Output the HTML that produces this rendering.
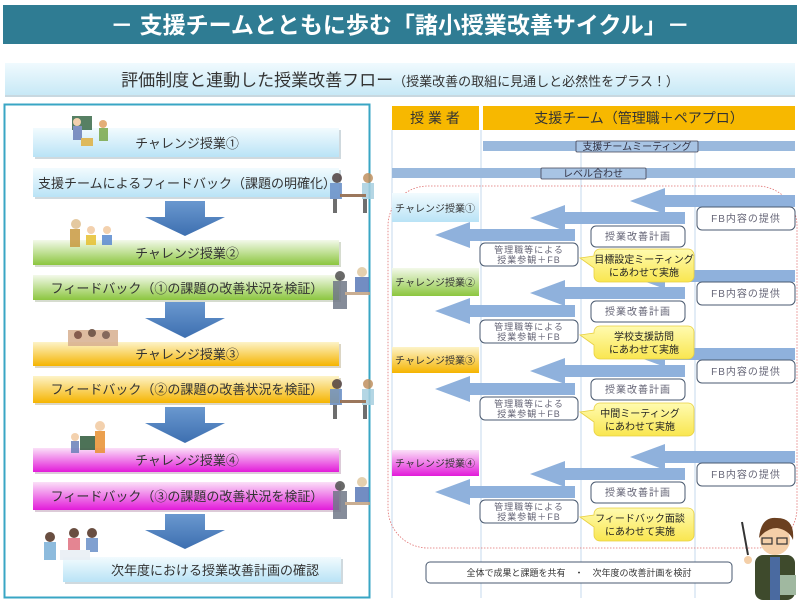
<!DOCTYPE html>
<html><head><meta charset="utf-8"><style>
html,body{margin:0;padding:0;background:#fff;}
svg{display:block;font-family:"Liberation Sans","Noto Sans CJK JP",sans-serif;}
</style></head><body>
<svg width="800" height="600" viewBox="0 0 800 600" xmlns="http://www.w3.org/2000/svg">
<defs>
<linearGradient id="gb" x1="0" y1="0" x2="0" y2="1"><stop offset="0" stop-color="#f2fbfe"/><stop offset="1" stop-color="#b9e3f6"/></linearGradient>
<linearGradient id="gg" x1="0" y1="0" x2="0" y2="1"><stop offset="0" stop-color="#f3f9ea"/><stop offset="1" stop-color="#8cc63f"/></linearGradient>
<linearGradient id="go" x1="0" y1="0" x2="0" y2="1"><stop offset="0" stop-color="#fdf3c8"/><stop offset="1" stop-color="#f5b400"/></linearGradient>
<linearGradient id="gm" x1="0" y1="0" x2="0" y2="1"><stop offset="0" stop-color="#fbe0f8"/><stop offset="1" stop-color="#e21bd9"/></linearGradient>
<linearGradient id="gs" x1="0" y1="0" x2="0" y2="1"><stop offset="0" stop-color="#f0fafe"/><stop offset="1" stop-color="#c6e8f6"/></linearGradient>
<linearGradient id="gd" x1="0" y1="0" x2="0" y2="1"><stop offset="0" stop-color="#6a98cf"/><stop offset="1" stop-color="#3d6fb0"/></linearGradient>
<linearGradient id="gy" x1="0" y1="0" x2="0" y2="1"><stop offset="0" stop-color="#fffbb0"/><stop offset="1" stop-color="#f9e650"/></linearGradient>
</defs>

<!-- title -->
<rect x="3" y="5" width="794" height="39" fill="#2f7c93"/>
<text x="400" y="33" text-anchor="middle" font-size="23" font-weight="bold" fill="#fff">－ 支援チームとともに歩む「諸小授業改善サイクル」－</text>

<!-- subtitle -->
<rect x="5" y="63" width="790" height="33" fill="url(#gs)"/>
<rect x="5" y="95" width="790" height="2" fill="#c8d8e0"/>
<text x="400" y="86" text-anchor="middle" font-size="17" fill="#333">評価制度と連動した授業改善フロー<tspan font-size="13">（授業改善の取組に見通しと必然性をプラス！）</tspan></text>

<!-- left panel -->
<rect x="4.5" y="104.5" width="365" height="493" fill="#fff" stroke="#39a6c4" stroke-width="2"/>

<g font-size="13" fill="#333" text-anchor="middle">
<rect x="35" y="130" width="306" height="29" fill="#cfd9de"/>
<rect x="33" y="128" width="306" height="29" fill="url(#gb)"/>
<text x="187" y="148">チャレンジ授業①</text>
<rect x="35" y="170" width="306" height="29" fill="#cfd9de"/>
<rect x="33" y="168" width="306" height="29" fill="url(#gb)"/>
<text x="187" y="188">支援チームによるフィードバック（課題の明確化）</text>

<rect x="35" y="242" width="306" height="25" fill="#d6dccf"/>
<rect x="33" y="240" width="306" height="25" fill="url(#gg)"/>
<text x="187" y="258">チャレンジ授業②</text>
<rect x="35" y="277" width="306" height="25" fill="#d6dccf"/>
<rect x="33" y="275" width="306" height="25" fill="url(#gg)"/>
<text x="187" y="293">フィードバック（①の課題の改善状況を検証）</text>

<rect x="35" y="344" width="306" height="24" fill="#dcd6c4"/>
<rect x="33" y="342" width="306" height="24" fill="url(#go)"/>
<text x="187" y="359">チャレンジ授業③</text>
<rect x="35" y="378" width="306" height="27" fill="#dcd6c4"/>
<rect x="33" y="376" width="306" height="27" fill="url(#go)"/>
<text x="187" y="394">フィードバック（②の課題の改善状況を検証）</text>

<rect x="35" y="450" width="306" height="24" fill="#dccbd8"/>
<rect x="33" y="448" width="306" height="24" fill="url(#gm)"/>
<text x="187" y="465">チャレンジ授業④</text>
<rect x="35" y="484" width="306" height="28" fill="#dccbd8"/>
<rect x="33" y="482" width="306" height="28" fill="url(#gm)"/>
<text x="187" y="501">フィードバック（③の課題の改善状況を検証）</text>

<rect x="65" y="559" width="278" height="25" fill="#cfd9de"/>
<rect x="63" y="557" width="278" height="25" fill="url(#gb)"/>
<text x="215" y="575">次年度における授業改善計画の確認</text>
</g>

<!-- down arrows -->
<g fill="url(#gd)">
<polygon points="165,201 205,201 205,217 225,217 185,236 145,217 165,217"/>
<polygon points="165,302 205,302 205,318 225,318 185,338 145,318 165,318"/>
<polygon points="165,407 205,407 205,423 225,423 185,443 145,423 165,423"/>
<polygon points="165,514 205,514 205,530 225,530 185,549 145,530 165,530"/>
</g>

<!-- simple illustrations -->
<g opacity="0.85">
<rect x="72" y="116" width="20" height="14" fill="#3a6b4a"/><circle cx="77" cy="122" r="4" fill="#f2c9a0"/><rect x="73" y="126" width="9" height="14" fill="#6a7fb8"/><circle cx="103" cy="124" r="4" fill="#e0a060"/><rect x="99" y="128" width="9" height="13" fill="#7aa84a"/><rect x="81" y="138" width="12" height="8" fill="#e0b040"/>
<circle cx="76" cy="224" r="5" fill="#e0c090"/><rect x="70" y="229" width="10" height="18" fill="#c89a40"/><circle cx="91" cy="230" r="4" fill="#f2c9a0"/><rect x="86" y="235" width="10" height="10" fill="#e6c030"/><circle cx="107" cy="230" r="4" fill="#f2c9a0"/><rect x="102" y="235" width="10" height="10" fill="#5a8ad0"/>
<rect x="68" y="330" width="50" height="16" fill="#d8b090"/><circle cx="78" cy="335" r="4" fill="#704030"/><circle cx="92" cy="333" r="4" fill="#604030"/><circle cx="106" cy="335" r="4" fill="#705040"/>
<rect x="80" y="436" width="22" height="14" fill="#2f5a3a"/><circle cx="100" cy="426" r="5" fill="#f2c9a0"/><rect x="95" y="431" width="10" height="22" fill="#e89030"/><circle cx="75" cy="437" r="4" fill="#f2c9a0"/><rect x="71" y="441" width="8" height="12" fill="#6a7fb8"/>
<circle cx="50" cy="537" r="5" fill="#503020"/><rect x="44" y="542" width="12" height="18" fill="#7ab0d8"/><circle cx="74" cy="533" r="5" fill="#503020"/><rect x="68" y="538" width="12" height="14" fill="#e07080"/><circle cx="92" cy="533" r="5" fill="#503020"/><rect x="86" y="538" width="12" height="14" fill="#6a90c8"/><rect x="60" y="550" width="30" height="10" fill="#e8eef4"/>
<g id="pp"><circle cx="337" cy="178" r="5" fill="#504040"/><rect x="330" y="183" width="12" height="16" fill="#6a90c8"/><circle cx="368" cy="178" r="5" fill="#c09060"/><rect x="362" y="183" width="12" height="16" fill="#a8d0e0"/><rect x="340" y="194" width="26" height="3" fill="#8a6040"/><rect x="333" y="199" width="4" height="14" fill="#555"/><rect x="363" y="199" width="4" height="14" fill="#555"/></g>
<use href="#pp" transform="translate(0,206)"/>
<circle cx="340" cy="276" r="5" fill="#505050"/><rect x="333" y="281" width="14" height="28" fill="#707888"/><circle cx="362" cy="272" r="5" fill="#e0c8a0"/><rect x="355" y="277" width="14" height="18" fill="#5a7ab8"/><rect x="345" y="292" width="25" height="3" fill="#c0a080"/>
<circle cx="340" cy="486" r="5" fill="#505050"/><rect x="333" y="491" width="14" height="28" fill="#707888"/><circle cx="362" cy="482" r="5" fill="#e0c8a0"/><rect x="355" y="487" width="14" height="18" fill="#5a7ab8"/><rect x="345" y="502" width="25" height="3" fill="#c0a080"/>
</g>

<!-- right side -->
<rect x="392" y="106" width="87" height="24" fill="#f7b800"/>
<rect x="483" y="106" width="312" height="24" fill="#f7b800"/>
<g fill="#333" font-size="14" text-anchor="middle">
<text x="435" y="123">授 業 者</text>
<text x="639" y="123">支援チーム（管理職＋ペアプロ）</text>
</g>
<g stroke="#c6d8ec" stroke-width="1">
<line x1="392" y1="130" x2="392" y2="598"/>
<line x1="481" y1="130" x2="481" y2="598"/>
<line x1="581" y1="150" x2="581" y2="598"/>
<line x1="695" y1="150" x2="695" y2="598"/>
</g>
<rect x="483" y="141" width="312" height="10" fill="#9ab9dd"/>
<rect x="576" y="141" width="122" height="11" fill="#a8c4e4" stroke="#445" stroke-width="0.8" rx="1"/>
<text x="637" y="150" text-anchor="middle" font-size="10" fill="#334">支援チームミーティング</text>
<rect x="392" y="168" width="403" height="10" fill="#9ab9dd"/>
<rect x="541" y="168" width="105" height="11" fill="#a8c4e4" stroke="#445" stroke-width="0.8" rx="1"/>
<text x="593" y="177" text-anchor="middle" font-size="10" fill="#334">レベル合わせ</text>

<rect x="388" y="186" width="409" height="362" rx="40" fill="none" stroke="#e07070" stroke-width="0.8" stroke-dasharray="1.5,1.5"/>

<g id="row">
</g>

<g font-size="10" text-anchor="middle" fill="#556">
<!-- rows -->
<g transform="translate(0,0)">
<rect x="392" y="193" width="87" height="29" fill="url(#gb)"/><text x="435" y="212" fill="#333" font-size="10">チャレンジ授業①</text>
</g>
<rect x="392" y="268" width="87" height="28" fill="url(#gg)"/><text x="435" y="286" fill="#333">チャレンジ授業②</text>
<rect x="392" y="347" width="87" height="26" fill="url(#go)"/><text x="435" y="364" fill="#333">チャレンジ授業③</text>
<rect x="392" y="450" width="87" height="26" fill="url(#gm)"/><text x="435" y="467" fill="#333">チャレンジ授業④</text>
</g>

<g fill="#8fb1dc">
<!-- row1 c=207 -->
<polygon points="630,201 665,188 665,195 795,195 795,207 665,207 665,214"/>
<polygon points="530,218 565,205 565,212 685,212 685,224 565,224 565,231"/>
<polygon points="435,235 470,222 470,229 575,229 575,241 470,241 470,248"/>
<!-- row2 c=282 -->
<polygon points="630,276 665,263 665,270 795,270 795,282 665,282 665,289"/>
<polygon points="530,293 565,280 565,287 685,287 685,299 565,299 565,306"/>
<polygon points="435,311 470,298 470,305 575,305 575,317 470,317 470,324"/>
<!-- row3 c=360 -->
<polygon points="630,354 665,341 665,348 795,348 795,360 665,360 665,367"/>
<polygon points="530,371 565,358 565,365 685,365 685,377 565,377 565,384"/>
<polygon points="435,389 470,376 470,383 575,383 575,395 470,395 470,402"/>
<!-- row4 c=463 -->
<polygon points="630,457 665,444 665,451 795,451 795,463 665,463 665,470"/>
<polygon points="530,474 565,461 565,468 685,468 685,480 565,480 565,487"/>
<polygon points="435,492 470,479 470,486 575,486 575,498 470,498 470,505"/>
</g>

<g font-size="10" fill="#667" text-anchor="middle" letter-spacing="1">
<g stroke="#4a5a70" stroke-width="1" fill="#fff">
<rect x="697" y="207" width="98" height="23" rx="5"/>
<rect x="591" y="226" width="94" height="21" rx="5"/>
<rect x="480" y="243" width="98" height="23" rx="5"/>
<rect x="697" y="282" width="98" height="23" rx="5"/>
<rect x="591" y="301" width="94" height="21" rx="5"/>
<rect x="480" y="320" width="98" height="23" rx="5"/>
<rect x="697" y="360" width="98" height="23" rx="5"/>
<rect x="591" y="379" width="94" height="21" rx="5"/>
<rect x="480" y="397" width="98" height="23" rx="5"/>
<rect x="697" y="463" width="98" height="23" rx="5"/>
<rect x="591" y="482" width="94" height="21" rx="5"/>
<rect x="480" y="500" width="98" height="23" rx="5"/>
</g>
<text x="746" y="222">FB内容の提供</text><text x="638" y="240">授業改善計画</text>
<text x="529" y="253" font-size="9">管理職等による</text><text x="529" y="263" font-size="9">授業参観＋FB</text>
<text x="746" y="297">FB内容の提供</text><text x="638" y="315">授業改善計画</text>
<text x="529" y="330" font-size="9">管理職等による</text><text x="529" y="340" font-size="9">授業参観＋FB</text>
<text x="746" y="375">FB内容の提供</text><text x="638" y="393">授業改善計画</text>
<text x="529" y="407" font-size="9">管理職等による</text><text x="529" y="417" font-size="9">授業参観＋FB</text>
<text x="746" y="478">FB内容の提供</text><text x="638" y="496">授業改善計画</text>
<text x="529" y="510" font-size="9">管理職等による</text><text x="529" y="520" font-size="9">授業参観＋FB</text>
</g>

<!-- callouts -->
<g fill="url(#gy)" stroke="#e8d040" stroke-width="0.8">
<path d="M600,249 h88 a6,6 0 0 1 6,6 v21 a6,6 0 0 1 -6,6 h-88 a6,6 0 0 1 -6,-6 v-8 l-14,-10 l14,-2 v-1 a6,6 0 0 1 6,-6z"/>
<path d="M600,326 h88 a6,6 0 0 1 6,6 v21 a6,6 0 0 1 -6,6 h-88 a6,6 0 0 1 -6,-6 v-8 l-14,-10 l14,-2 v-1 a6,6 0 0 1 6,-6z"/>
<path d="M600,403 h88 a6,6 0 0 1 6,6 v21 a6,6 0 0 1 -6,6 h-88 a6,6 0 0 1 -6,-6 v-8 l-14,-10 l14,-2 v-1 a6,6 0 0 1 6,-6z"/>
<path d="M600,508 h88 a6,6 0 0 1 6,6 v21 a6,6 0 0 1 -6,6 h-88 a6,6 0 0 1 -6,-6 v-8 l-14,-10 l14,-2 v-1 a6,6 0 0 1 6,-6z"/>
</g>
<g font-size="10" fill="#222" text-anchor="middle">
<text x="644" y="263">目標設定ミーティング</text><text x="644" y="276">にあわせて実施</text>
<text x="644" y="340">学校支援訪問</text><text x="644" y="353">にあわせて実施</text>
<text x="640" y="417">中間ミーティング</text><text x="640" y="430">にあわせて実施</text>
<text x="640" y="522">フィードバック面談</text><text x="640" y="535">にあわせて実施</text>
</g>

<rect x="426" y="562" width="306" height="21" rx="4" fill="#fff" stroke="#4a5a70" stroke-width="1"/>
<text x="579" y="576" text-anchor="middle" font-size="9" fill="#333">全体で成果と課題を共有　・　次年度の改善計画を検討</text>

<!-- teacher character -->
<g>
<line x1="742" y1="522" x2="748" y2="555" stroke="#333" stroke-width="2"/>
<rect x="755" y="555" width="40" height="45" rx="8" fill="#3e4a2c"/>
<rect x="770" y="557" width="10" height="43" fill="#4a6aa0"/>
<circle cx="775" cy="540" r="15" fill="#f4cfa8"/>
<path d="M759,538 q2,-22 18,-20 q18,0 16,22 q-4,-10 -16,-12 q-10,0 -18,10z" fill="#6b4020"/>
<rect x="762" y="538" width="10" height="6" fill="none" stroke="#333" stroke-width="1.2"/>
<rect x="777" y="538" width="10" height="6" fill="none" stroke="#333" stroke-width="1.2"/>
<circle cx="748" cy="560" r="4" fill="#f4cfa8"/>
<rect x="780" y="575" width="16" height="20" fill="#a0b8a0"/>
</g>
</svg>
</body></html>
